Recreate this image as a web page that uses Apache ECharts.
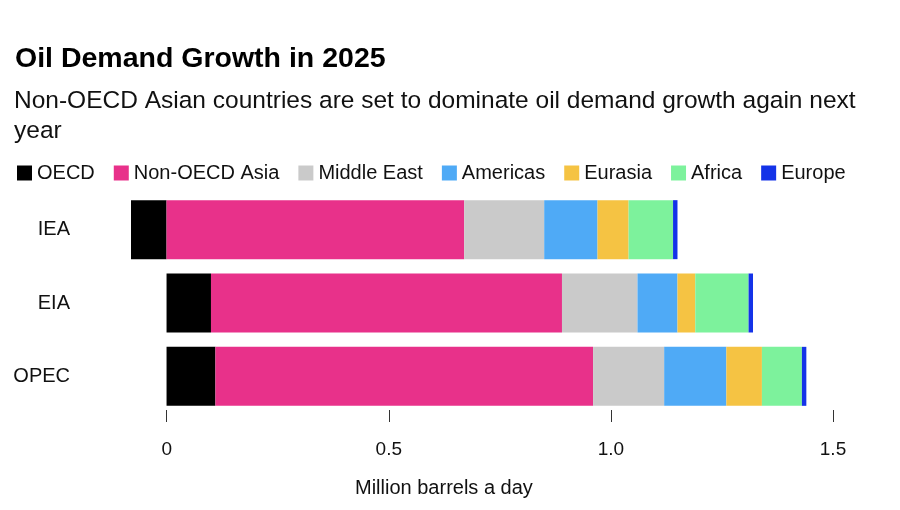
<!DOCTYPE html>
<html><head><meta charset="utf-8">
<script src="https://cdn.jsdelivr.net/npm/echarts@6/dist/echarts.min.js"></script>
<style>html,body{margin:0;padding:0;background:#fff}#c{width:900px;height:510px}</style>
</head><body><div id="c"></div>
<script>
const categories = ['IEA', 'EIA', 'OPEC'];
const seriesNames = ['OECD', 'Non-OECD Asia', 'Middle East', 'Americas', 'Eurasia', 'Africa', 'Europe'];
const oecd        = [-0.08, 0.10, 0.11];
const nonOecdAsia = [0.67, 0.79, 0.85];
const middleEast  = [0.18, 0.17, 0.16];
const americas    = [0.12, 0.09, 0.14];
const eurasia     = [0.07, 0.04, 0.08];
const africa      = [0.10, 0.12, 0.09];
const europe      = [0.01, 0.01, 0.01];
const tickValues  = ['0', '0.5', '1.0', '1.5'];
const colors = ['#000000', '#E8318A', '#CACACA', '#4FAAF6', '#F5C343', '#7DF29C', '#1433E8'];
const values = [oecd, nonOecdAsia, middleEast, americas, eurasia, africa, europe];

const FONT = 'Liberation Sans';
const chart = echarts.init(document.getElementById('c'), null, {renderer: 'canvas'});
chart.setOption({
  backgroundColor: '#fff',
  animation: false,
  textStyle: {fontFamily: FONT},
  title: [
    {text: 'Oil Demand Growth in 2025', left: 10, top: 40,
     textStyle: {fontFamily: FONT, fontSize: 28.5, fontWeight: 'bold', color: '#000'}},
    {text: 'Non-OECD Asian countries are set to dominate oil demand growth again next\nyear', left: 9, top: 81,
     textStyle: {fontFamily: FONT, fontSize: 24.5, fontWeight: 'normal', color: '#111', lineHeight: 30}}
  ],
  legend: {
    left: 12, top: 158, itemWidth: 15, itemHeight: 15, itemGap: 19, icon: 'rect',
    textStyle: {fontFamily: FONT, fontSize: 20, color: '#111', padding: [0, 0, 0, 0]},
    data: seriesNames
  },
  grid: [
    {left: 131, right: 67, top: 193, bottom: 97},
    {left: 166.7, right: 67, top: 193, bottom: 100}
  ],
  graphic: [
    {type: 'text', left: 355, top: 478,
     style: {text: 'Million barrels a day', font: '20px "Liberation Sans"', fill: '#111'}}
  ],
  xAxis: [
    {gridIndex: 0, type: 'value', min: -0.08, max: 1.5, show: false},
    {gridIndex: 1, type: 'value', min: 0, max: 1.5, interval: 0.5,
     axisLine: {show: false}, splitLine: {show: false},
     axisTick: {show: true, length: 12, lineStyle: {color: '#333', width: 1}},
     axisLabel: {margin: 30, fontFamily: FONT, fontSize: 19, color: '#111',
       formatter: (v) => tickValues[Math.round(v / 0.5)]}}
  ],
  yAxis: [
    {gridIndex: 0, type: 'category', data: categories, inverse: true,
     axisLine: {show: false}, axisTick: {show: false},
     axisLabel: {margin: 61, fontFamily: FONT, fontSize: 20, color: '#111'}},
    {gridIndex: 1, type: 'category', data: categories, inverse: true, show: false}
  ],
  series: seriesNames.map((n, i) => ({
    name: n, type: 'bar', stack: 'total', xAxisIndex: 0, yAxisIndex: 0,
    barWidth: 59, itemStyle: {color: colors[i]}, data: values[i]
  }))
});
</script></body></html>
